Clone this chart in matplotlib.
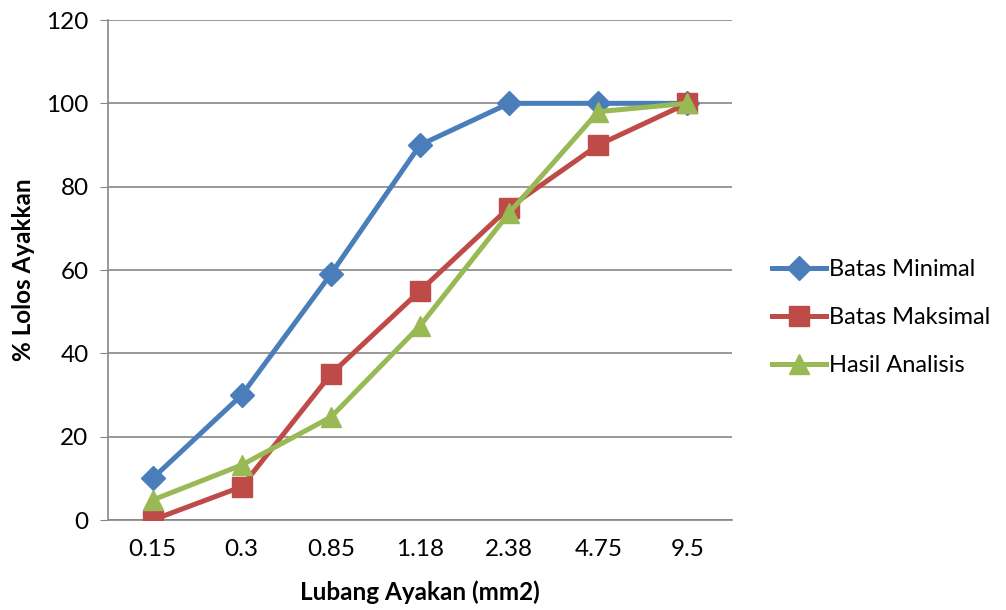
import matplotlib
matplotlib.use("Agg")
import matplotlib.pyplot as plt

categories = ["0.15", "0.3", "0.85", "1.18", "2.38", "4.75", "9.5"]
batas_minimal = [10, 30, 59, 90, 100, 100, 100]
batas_maksimal = [0, 8, 35, 55, 75, 90, 100]
hasil_analisis = [4.8, 13.2, 24.7, 46.6, 73.7, 98, 100]
y_ticks = [0, 20, 40, 60, 80, 100, 120]

plt.rcParams['font.family'] = ['Lato', 'DejaVu Sans']

fig = plt.figure(figsize=(10.06, 6.10), dpi=100)
ax = fig.add_axes([0.1074, 0.1475, 0.6202, 0.8197])

x = list(range(len(categories)))
ax.plot(x, batas_minimal, color='#4a7ebb', lw=3.6, marker='D', ms=12, label='Batas Minimal', zorder=3)
ax.plot(x, batas_maksimal, color='#be4b48', lw=3.6, marker='s', ms=14, label='Batas Maksimal', zorder=4)
ax.plot(x, hasil_analisis, color='#98b954', lw=3.6, marker='^', ms=15, label='Hasil Analisis', zorder=5)

ax.set_xlim(-0.5, len(categories) - 0.5)
ax.set_ylim(0, 120)
ax.set_yticks(y_ticks)
ax.set_xticks(x)
ax.set_xticklabels(categories)
ax.grid(axis='y', color='#868686', lw=1.2)
ax.set_axisbelow(True)
for s in ['top', 'right']:
    ax.spines[s].set_visible(False)
ax.spines['left'].set_color('#868686')
ax.spines['bottom'].set_color('#868686')
ax.spines['left'].set_linewidth(1.2)
ax.spines['bottom'].set_linewidth(1.2)
ax.tick_params(axis='y', length=6, color='#868686', labelsize=17.5, pad=8)
ax.tick_params(axis='x', length=0, labelsize=17.5, pad=14)

ax.set_xlabel('Lubang Ayakan (mm2)', fontsize=17.5, fontweight='bold', labelpad=14)
ax.set_ylabel('% Lolos Ayakkan', fontsize=17.5, fontweight='bold', labelpad=8)

leg = ax.legend(loc='center left', bbox_to_anchor=(1.03, 0.405), frameon=False,
                fontsize=17, handlelength=2.3, handletextpad=0.1, labelspacing=1.15)

fig.savefig('out.png', dpi=100)
